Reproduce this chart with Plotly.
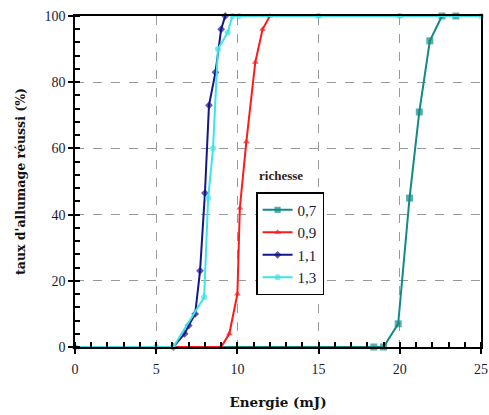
import plotly.graph_objects as go

# Energie (mJ) and taux d'allumage réussi (%) per richesse
e_07 = [0, 18.4, 19.0, 19.9, 20.6, 21.2, 21.85, 22.6, 23.45]
p_07 = [0, 0, 0, 7, 45, 71, 92.5, 100, 100]

e_09 = [0, 5, 9.0, 9.5, 10.0, 10.15, 10.55, 11.1, 11.55, 12.0, 15, 20]
p_09 = [0, 0, 0, 4, 16, 42, 62, 86, 96, 100, 100, 100]

e_11 = [6.05, 6.75, 7.0, 7.4, 7.7, 8.0, 8.25, 8.65, 9.0, 9.25]
p_11 = [0, 4, 6.5, 10, 23, 46.5, 73, 83, 96, 100]

e_13 = [0, 5, 6.05, 7.95, 8.2, 8.5, 8.8, 9.4, 9.7, 10.1, 15, 20, 25]
p_13 = [0, 0, 0, 15, 45, 60, 90, 95, 100, 100, 100, 100, 100]

labels = ["0,7", "0,9", "1,1", "1,3"]
x_ticks = [0, 5, 10, 15, 20, 25]
y_ticks = [0, 20, 40, 60, 80, 100]

FONT = "Liberation Serif"
TFONT = "DejaVu Serif"
colors = ["#138a86", "#ff1a1a", "#16168c", "#3ee4e6"]
symbols = ["square", "triangle-up", "diamond", "circle"]
msizes = [7, 6, 6, 6]

fig = go.Figure()
series = [(e_07, p_07), (e_09, p_09), (e_11, p_11), (e_13, p_13)]
for i, (ex, py) in enumerate(series):
    sizes = [msizes[i]] * len(ex)
    if i == 0:
        sizes[0] = 0
    fig.add_trace(go.Scatter(
        x=ex, y=py, mode="lines+markers", name=labels[i],
        line=dict(color=colors[i], width=2),
        marker=dict(symbol=symbols[i], size=sizes, color=colors[i],
                    line=dict(width=0)),
        cliponaxis=False,
    ))

# invisible trace to carry overlay axes (inward half of major ticks)
fig.add_trace(go.Scatter(x=[0], y=[0], xaxis="x2", yaxis="y2",
                         mode="markers", marker=dict(opacity=0),
                         showlegend=False, hoverinfo="skip"))

axis_common = dict(showline=True, linecolor="black", linewidth=1.5,
                   mirror=True, ticks="outside", ticklen=5, tickwidth=1.5,
                   tickcolor="black", showgrid=True, gridcolor="#999999",
                   griddash="dash", gridwidth=1, zeroline=False,
                   automargin=False,
                   tickfont=dict(family=FONT, size=14, color="#1a1a33"))

fig.update_layout(
    width=489, height=415,
    margin=dict(l=75, r=8, t=16, b=68, autoexpand=False),
    plot_bgcolor="white", paper_bgcolor="white",
    font=dict(family=FONT, color="black"),
    xaxis=dict(range=[0, 25], tickvals=x_ticks, ticklabelstandoff=3,
               title=dict(text="<b>Energie (mJ)</b>", font=dict(family=TFONT, size=13.5, color="#111111"), standoff=22),
               minor=dict(dtick=1, ticks="inside", ticklen=5, tickwidth=1.5, tickcolor="black", showgrid=False),
               **axis_common),
    yaxis=dict(range=[0, 100], tickvals=y_ticks,
               title=dict(text="<b>taux d'allumage réussi (%)</b>", font=dict(family=TFONT, size=12.5, color="#111111"), standoff=16),
               minor=dict(dtick=4, ticks="inside", ticklen=5, tickwidth=1.5, tickcolor="black", showgrid=False),
               **axis_common),
    xaxis2=dict(overlaying="x", range=[0, 25], tickvals=x_ticks, ticks="inside",
                ticklen=5, tickwidth=1.5, tickcolor="black", showticklabels=False,
                showgrid=False, zeroline=False, showline=False, side="bottom",
                anchor="y", automargin=False),
    yaxis2=dict(overlaying="y", range=[0, 100], tickvals=y_ticks, ticks="inside",
                ticklen=5, tickwidth=1.5, tickcolor="black", showticklabels=False,
                showgrid=False, zeroline=False, showline=False, side="left",
                anchor="x", automargin=False),
    legend=dict(x=0.446, y=0.468, xanchor="left", yanchor="top",
                bgcolor="white", bordercolor="black", borderwidth=1.5,
                font=dict(family=FONT, size=15, color="#1a1a33"),
                itemwidth=30, tracegroupgap=0),
    showlegend=True,
)

fig.add_annotation(text="<b>richesse</b>", xref="paper", yref="paper",
                   x=0.507, y=0.517, showarrow=False,
                   font=dict(family=FONT, size=13, color="#332222"))

fig.write_html("out.html", config={"displayModeBar": False},
               post_script="document.body.style.margin='0';document.body.style.padding='0';")
